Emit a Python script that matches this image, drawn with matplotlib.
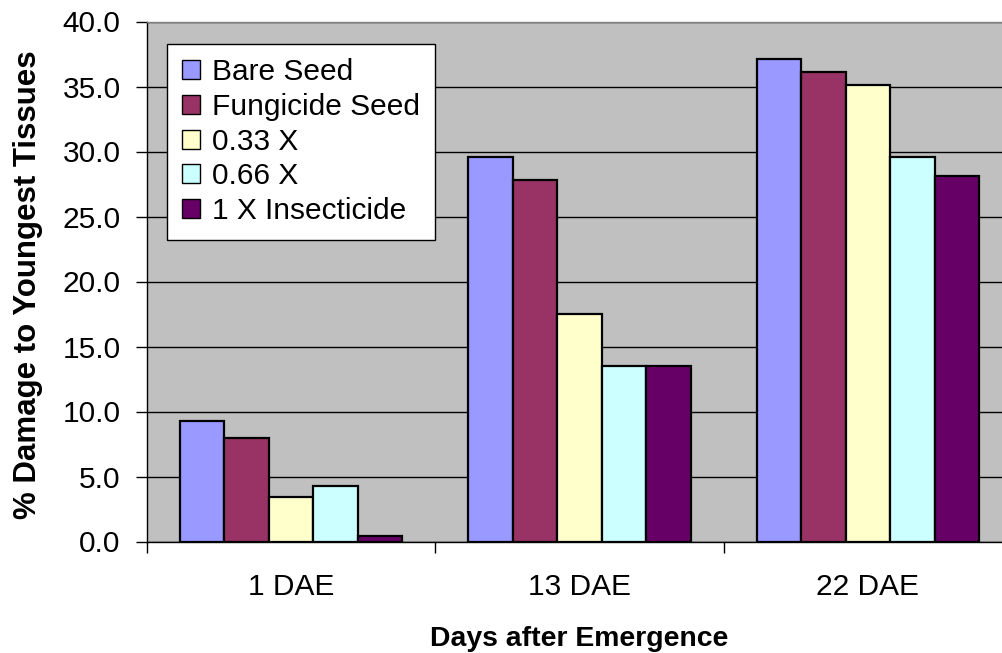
import matplotlib
matplotlib.use("Agg")
import matplotlib.pyplot as plt
import numpy as np

plt.rcParams['font.family'] = ['Liberation Sans', 'DejaVu Sans']

categories = ["1 DAE", "13 DAE", "22 DAE"]
series_names = ["Bare Seed", "Fungicide Seed", "0.33 X", "0.66 X", "1 X Insecticide"]
bare_seed = [9.3, 29.6, 37.1]
fungicide_seed = [8.0, 27.8, 36.1]
x033 = [3.4, 17.5, 35.1]
x066 = [4.3, 13.5, 29.6]
x1_insecticide = [0.45, 13.5, 28.1]
colors = ["#9999FF", "#993366", "#FFFFCC", "#CCFFFF", "#660066"]
yticks = [0, 5, 10, 15, 20, 25, 30, 35, 40]

series = [bare_seed, fungicide_seed, x033, x066, x1_insecticide]

fig = plt.figure(figsize=(10.02, 6.53), dpi=100)
# axes spans beyond right edge of the figure (as in reference)
ax = fig.add_axes([147/1002, 1 - 541.5/653, 865/1002, 520/653])
ax.set_facecolor("#C0C0C0")

x = np.arange(len(categories))
bw = 0.1543
for i, (vals, name, c) in enumerate(zip(series, series_names, colors)):
    ax.bar(x + (i - 2) * bw, vals, width=bw, color=c, edgecolor="black",
           linewidth=1.6, label=name, zorder=3)

ax.set_ylim(0, 40)
ax.set_xlim(-0.5, 2.5)
ax.set_yticks(yticks)
ax.set_yticklabels([f"{v:.1f}" for v in yticks], fontsize=21.5)
ax.yaxis.grid(True, color="black", linewidth=1.0, zorder=0)
ax.set_axisbelow(True)

# x ticks at category boundaries, labels centered
ax.set_xticks([-0.5, 0.5, 1.5, 2.5])
ax.set_xticklabels([])
ax.set_xticks(x, minor=True)
ax.set_xticklabels(categories, minor=True, fontsize=21.5)
ax.tick_params(axis="x", which="minor", length=0, pad=23)
ax.tick_params(axis="x", which="major", length=8, width=1, direction="out")
ax.tick_params(axis="y", length=8, width=1, direction="out", pad=11)

for s in ["top", "right"]:
    ax.spines[s].set_color("#808080")
    ax.spines[s].set_linewidth(1.0)
ax.spines["left"].set_linewidth(1.0)
ax.spines["bottom"].set_linewidth(1.0)

ax.set_ylabel("% Damage to Youngest Tissues", fontsize=22.5, fontweight="bold", labelpad=14)
ax.yaxis.set_label_coords(-0.120, 0.493)
ax.set_xlabel("Days after Emergence", fontsize=20.4, fontweight="bold", labelpad=18)

leg = ax.legend(loc="upper left", bbox_to_anchor=(20/865, 1 - 22/520), fontsize=21.5,
                frameon=True, fancybox=False, edgecolor="black", facecolor="white",
                framealpha=1, borderpad=0.5, labelspacing=0.22, handlelength=0.6,
                handleheight=0.6, handletextpad=0.4, borderaxespad=0)
leg.get_frame().set_linewidth(1.0)
for h in leg.legend_handles:
    h.set_linewidth(1.0)

fig.savefig("out.png", dpi=100)
